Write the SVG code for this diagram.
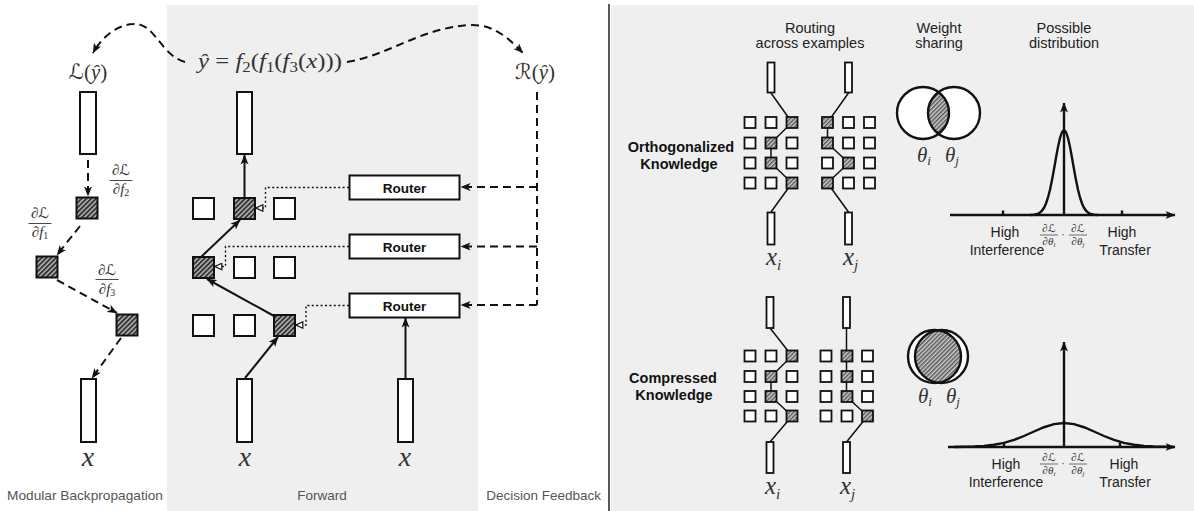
<svg xmlns="http://www.w3.org/2000/svg" width="1194" height="511" viewBox="0 0 1194 511">
<style>
.box{fill:#fff;stroke:#111;stroke-width:2}
.hat{fill:url(#hatch);stroke:#111;stroke-width:2}
.sb{fill:#fff;stroke:#111;stroke-width:1.8}
.sh{fill:url(#hatch2);stroke:#111;stroke-width:1.8}
.dash{fill:none;stroke:#111;stroke-width:2;stroke-dasharray:8 5}
.solid{fill:none;stroke:#111;stroke-width:2}
.dot{fill:none;stroke:#111;stroke-width:1.4;stroke-dasharray:2 2.4}
.thin{fill:none;stroke:#111;stroke-width:1.5}
.ax{fill:none;stroke:#111;stroke-width:2.4}
.math{font-family:"Liberation Serif","DejaVu Serif",serif;fill:#333}
.scr{font-family:"DejaVu Serif","DejaVu Sans",serif;font-style:normal}
.it{font-style:italic}
.cap{font-family:"Liberation Sans",Arial,sans-serif;font-size:13.5px;fill:#555}
.hd{font-family:"Liberation Sans",Arial,sans-serif;font-size:14.5px;fill:#222;text-anchor:middle}
.bold{font-family:"Liberation Sans",Arial,sans-serif;font-size:14.5px;font-weight:bold;fill:#111;text-anchor:middle}
.rt{font-family:"Liberation Sans",Arial,sans-serif;font-size:13.5px;font-weight:bold;fill:#111;text-anchor:middle}
.lab{font-family:"Liberation Sans",Arial,sans-serif;font-size:14px;fill:#222;text-anchor:middle}
</style>
<defs>
<pattern id="hatch" width="3.4" height="3.4" patternUnits="userSpaceOnUse" patternTransform="rotate(45)">
<rect width="3.4" height="3.4" fill="#b5b5b5"/><rect width="1.9" height="3.4" fill="#333"/>
</pattern>
<pattern id="hatch2" width="3" height="3" patternUnits="userSpaceOnUse" patternTransform="rotate(45)">
<rect width="3" height="3" fill="#c8c8c8"/><rect width="1.4" height="3" fill="#555"/>
</pattern>
<marker id="ah" markerWidth="11" markerHeight="9" refX="9.5" refY="4.5" orient="auto" markerUnits="userSpaceOnUse">
<path d="M0,0.5 L10,4.5 L0,8.5 L2.5,4.5 z" fill="#111"/>
</marker>
<marker id="hol" markerWidth="9" markerHeight="8" refX="7.5" refY="4" orient="auto" markerUnits="userSpaceOnUse">
<path d="M0.7,0.8 L7.5,4 L0.7,7.2 z" fill="#fff" stroke="#111" stroke-width="1.2"/>
</marker>
<clipPath id="c1"><circle cx="923" cy="113" r="26"/></clipPath>
<clipPath id="c2"><circle cx="934.5" cy="356.5" r="26.5"/></clipPath>
</defs>

<!-- backgrounds -->
<rect x="0" y="0" width="1194" height="511" fill="#fff"/>
<rect x="167" y="5" width="311" height="506" fill="#efefef"/>
<rect x="611" y="5" width="583" height="506" fill="#efefef"/>
<line x1="609" y1="4" x2="609" y2="511" stroke="#222" stroke-width="1.5"/>

<!-- captions -->
<text class="cap" x="7" y="500" textLength="156" lengthAdjust="spacingAndGlyphs">Modular Backpropagation</text>
<text class="cap" x="322" y="500" text-anchor="middle">Forward</text>
<text class="cap" x="601" y="500" text-anchor="end" font-size="13">Decision Feedback</text>

<!-- left panel nodes -->
<g id="loss">
<text class="math" x="88" y="79" font-size="21" text-anchor="middle"><tspan class="scr">ℒ</tspan>(<tspan class="it">ŷ</tspan>)</text>
</g>
<g id="left-out"><rect class="box" x="80" y="92" width="16" height="62"/></g>
<g id="left-m2"><rect class="hat" x="76.5" y="197.5" width="21" height="21"/></g>
<g id="left-m1"><rect class="hat" x="36.5" y="256.5" width="21" height="21"/></g>
<g id="left-m3"><rect class="hat" x="116.5" y="314.5" width="21" height="21"/></g>
<g id="left-in"><rect class="box" x="81" y="379" width="15" height="63"/>
<text class="math it" x="88" y="466" font-size="28" text-anchor="middle" fill="#222">x</text></g>
<g id="grad-f2" class="math">
<text x="121" y="175" font-size="15" text-anchor="middle">∂<tspan class="scr">ℒ</tspan></text>
<line x1="109.5" y1="180.5" x2="132.5" y2="180.5" stroke="#333" stroke-width="0.9"/>
<text x="121" y="194" font-size="15" text-anchor="middle">∂<tspan class="it">f</tspan><tspan font-size="10" dy="2">2</tspan></text>
</g>
<g id="grad-f1" class="math">
<text x="40" y="218" font-size="15" text-anchor="middle">∂<tspan class="scr">ℒ</tspan></text>
<line x1="28.5" y1="223.5" x2="51.5" y2="223.5" stroke="#333" stroke-width="0.9"/>
<text x="40" y="237" font-size="15" text-anchor="middle">∂<tspan class="it">f</tspan><tspan font-size="10" dy="2">1</tspan></text>
</g>
<g id="grad-f3" class="math">
<text x="107" y="275" font-size="15" text-anchor="middle">∂<tspan class="scr">ℒ</tspan></text>
<line x1="95.5" y1="279.5" x2="118.5" y2="279.5" stroke="#333" stroke-width="0.9"/>
<text x="107" y="294" font-size="15" text-anchor="middle">∂<tspan class="it">f</tspan><tspan font-size="10" dy="2">3</tspan></text>
</g>

<!-- center panel nodes -->
<g id="yhat">
<text class="math" x="198" y="68" font-size="22" textLength="144" lengthAdjust="spacingAndGlyphs"><tspan class="it">ŷ</tspan> = <tspan class="it">f</tspan><tspan font-size="15" dy="4">2</tspan><tspan dy="-4">(</tspan><tspan class="it">f</tspan><tspan font-size="15" dy="4">1</tspan><tspan dy="-4">(</tspan><tspan class="it">f</tspan><tspan font-size="15" dy="4">3</tspan><tspan dy="-4">(</tspan><tspan class="it">x</tspan>)))</text>
</g>
<g id="c-out"><rect class="box" x="237" y="92" width="15" height="62"/></g>
<g id="c-r1">
<rect class="box" x="193" y="198" width="21" height="21"/>
<rect class="hat" x="234" y="198" width="21" height="21"/>
<rect class="box" x="274" y="198" width="21" height="21"/>
</g>
<g id="c-r2">
<rect class="hat" x="193" y="257" width="21" height="21"/>
<rect class="box" x="234" y="257" width="21" height="21"/>
<rect class="box" x="274" y="257" width="21" height="21"/>
</g>
<g id="c-r3">
<rect class="box" x="193" y="315" width="21" height="21"/>
<rect class="box" x="234" y="315" width="21" height="21"/>
<rect class="hat" x="274" y="315" width="21" height="21"/>
</g>
<g id="c-in"><rect class="box" x="237" y="379" width="15" height="63"/>
<text class="math it" x="245" y="466" font-size="28" text-anchor="middle" fill="#222">x</text></g>
<g id="r-in"><rect class="box" x="398" y="379" width="15" height="63"/>
<text class="math it" x="405" y="466" font-size="28" text-anchor="middle" fill="#222">x</text></g>
<g id="router1"><rect class="box" x="349.5" y="175.5" width="110" height="24"/><text class="rt" x="404.5" y="192.5">Router</text></g>
<g id="router2"><rect class="box" x="349.5" y="234.5" width="110" height="24"/><text class="rt" x="404.5" y="251.5">Router</text></g>
<g id="router3"><rect class="box" x="349.5" y="293.5" width="110" height="24"/><text class="rt" x="404.5" y="310.5">Router</text></g>
<g id="reward">
<text class="math" x="535" y="79" font-size="21" text-anchor="middle"><tspan class="scr">ℛ</tspan>(<tspan class="it">ŷ</tspan>)</text>
</g>

<!-- right panel -->
<g id="headers">
<text class="hd" x="810" y="33">Routing</text>
<text class="hd" x="810" y="48">across examples</text>
<text class="hd" x="939" y="33">Weight</text>
<text class="hd" x="939" y="48">sharing</text>
<text class="hd" x="1064" y="33">Possible</text>
<text class="hd" x="1064" y="48">distribution</text>
</g>
<g id="orth-label">
<text class="bold" x="681" y="152">Orthogonalized</text>
<text class="bold" x="679" y="169">Knowledge</text>
</g>
<g id="comp-label">
<text class="bold" x="673" y="383">Compressed</text>
<text class="bold" x="674" y="400">Knowledge</text>
</g>

<g id="orth-i">
<polyline class="thin" points="771,93 792,122.5 771,143 771,163 792,183 771,212"/>
<rect class="sb" x="767.5" y="62.5" width="7" height="30"/>
<rect class="sb" x="767.5" y="212.5" width="7" height="32"/>
<rect class="sb" x="744.5" y="117" width="11" height="11"/><rect class="sb" x="765.5" y="117" width="11" height="11"/><rect class="sh" x="786.5" y="117" width="11" height="11"/>
<rect class="sb" x="744.5" y="137.5" width="11" height="11"/><rect class="sh" x="765.5" y="137.5" width="11" height="11"/><rect class="sb" x="786.5" y="137.5" width="11" height="11"/>
<rect class="sb" x="744.5" y="157.5" width="11" height="11"/><rect class="sh" x="765.5" y="157.5" width="11" height="11"/><rect class="sb" x="786.5" y="157.5" width="11" height="11"/>
<rect class="sb" x="744.5" y="177.5" width="11" height="11"/><rect class="sb" x="765.5" y="177.5" width="11" height="11"/><rect class="sh" x="786.5" y="177.5" width="11" height="11"/>
<text class="math it" x="766" y="265" font-size="25" fill="#222">x<tspan font-size="15" dy="5">i</tspan></text>
</g>
<g id="orth-j">
<polyline class="thin" points="848.5,93 827.5,122.5 827.5,143 848.5,163 827.5,183 848.5,212"/>
<rect class="sb" x="845" y="62.5" width="7" height="30"/>
<rect class="sb" x="845" y="212.5" width="7" height="32"/>
<rect class="sh" x="822" y="117" width="11" height="11"/><rect class="sb" x="843" y="117" width="11" height="11"/><rect class="sb" x="864" y="117" width="11" height="11"/>
<rect class="sh" x="822" y="137.5" width="11" height="11"/><rect class="sb" x="843" y="137.5" width="11" height="11"/><rect class="sb" x="864" y="137.5" width="11" height="11"/>
<rect class="sb" x="822" y="157.5" width="11" height="11"/><rect class="sh" x="843" y="157.5" width="11" height="11"/><rect class="sb" x="864" y="157.5" width="11" height="11"/>
<rect class="sh" x="822" y="177.5" width="11" height="11"/><rect class="sb" x="843" y="177.5" width="11" height="11"/><rect class="sb" x="864" y="177.5" width="11" height="11"/>
<text class="math it" x="843" y="265" font-size="25" fill="#222">x<tspan font-size="15" dy="5">j</tspan></text>
</g>

<g id="comp-i">
<polyline class="thin" points="770,328 792,356 771,376.5 771,396.5 792,416 770,442"/>
<rect class="sb" x="766.5" y="297" width="7" height="31"/>
<rect class="sb" x="766.5" y="442" width="7" height="31"/>
<rect class="sb" x="744.5" y="350.5" width="11" height="11"/><rect class="sb" x="765.5" y="350.5" width="11" height="11"/><rect class="sh" x="786.5" y="350.5" width="11" height="11"/>
<rect class="sb" x="744.5" y="371" width="11" height="11"/><rect class="sh" x="765.5" y="371" width="11" height="11"/><rect class="sb" x="786.5" y="371" width="11" height="11"/>
<rect class="sb" x="744.5" y="391" width="11" height="11"/><rect class="sh" x="765.5" y="391" width="11" height="11"/><rect class="sb" x="786.5" y="391" width="11" height="11"/>
<rect class="sb" x="744.5" y="410.5" width="11" height="11"/><rect class="sb" x="765.5" y="410.5" width="11" height="11"/><rect class="sh" x="786.5" y="410.5" width="11" height="11"/>
<text class="math it" x="765" y="494" font-size="25" fill="#222">x<tspan font-size="15" dy="5">i</tspan></text>
</g>
<g id="comp-j">
<polyline class="thin" points="846.5,328 846.5,356 846.5,376.5 846.5,396.5 867.5,416 846.5,442"/>
<rect class="sb" x="843" y="297" width="7" height="31"/>
<rect class="sb" x="843" y="442" width="7" height="31"/>
<rect class="sb" x="820.5" y="350.5" width="11" height="11"/><rect class="sh" x="841.5" y="350.5" width="11" height="11"/><rect class="sb" x="862" y="350.5" width="11" height="11"/>
<rect class="sb" x="820.5" y="371" width="11" height="11"/><rect class="sh" x="841.5" y="371" width="11" height="11"/><rect class="sb" x="862" y="371" width="11" height="11"/>
<rect class="sb" x="820.5" y="391" width="11" height="11"/><rect class="sh" x="841.5" y="391" width="11" height="11"/><rect class="sb" x="862" y="391" width="11" height="11"/>
<rect class="sb" x="820.5" y="410.5" width="11" height="11"/><rect class="sb" x="841.5" y="410.5" width="11" height="11"/><rect class="sh" x="862" y="410.5" width="11" height="11"/>
<text class="math it" x="840" y="494" font-size="25" fill="#222">x<tspan font-size="15" dy="5">j</tspan></text>
</g>

<g id="venn-orth">
<circle cx="923" cy="113" r="26" fill="#fff"/>
<circle cx="954" cy="113" r="26" fill="#fff"/>
<circle cx="954" cy="113" r="26" fill="url(#hatch2)" clip-path="url(#c1)"/>
<circle cx="923" cy="113" r="26" fill="none" stroke="#111" stroke-width="2.4"/>
<circle cx="954" cy="113" r="26" fill="none" stroke="#111" stroke-width="2.4"/>
<text class="math" x="917" y="162" font-size="21"><tspan class="it">θ</tspan><tspan class="it" font-size="13" dy="3">i</tspan></text>
<text class="math" x="945" y="162" font-size="21"><tspan class="it">θ</tspan><tspan class="it" font-size="13" dy="3">j</tspan></text>
</g>
<g id="venn-comp">
<circle cx="934.5" cy="356.5" r="26.5" fill="#fff"/>
<circle cx="941.5" cy="356.5" r="26.5" fill="#fff"/>
<circle cx="941.5" cy="356.5" r="26.5" fill="url(#hatch2)" clip-path="url(#c2)"/>
<circle cx="934.5" cy="356.5" r="26.5" fill="none" stroke="#111" stroke-width="2.4"/>
<circle cx="941.5" cy="356.5" r="26.5" fill="none" stroke="#111" stroke-width="2.4"/>
<text class="math" x="918" y="403" font-size="21"><tspan class="it">θ</tspan><tspan class="it" font-size="13" dy="3">i</tspan></text>
<text class="math" x="946" y="403" font-size="21"><tspan class="it">θ</tspan><tspan class="it" font-size="13" dy="3">j</tspan></text>
</g>

<g id="plot-orth">
<line class="ax" x1="950" y1="215" x2="1175" y2="215" marker-end="url(#ah)"/>
<line class="ax" x1="1064" y1="215" x2="1064" y2="103" marker-end="url(#ah)"/>
<line class="ax" x1="1003" y1="210.5" x2="1003" y2="215"/>
<line class="ax" x1="1122" y1="210.5" x2="1122" y2="215"/>
<polyline class="ax" points="1030,215 1034,214.7 1036,214.3 1038,213.7 1040,212.6 1042,210.7 1044,207.8 1046,203.5 1048,197.5 1050,189.7 1052,180.1 1054,169.2 1056,157.7 1058,146.9 1060,138 1062,132.1 1064,130 1066,132.1 1068,138 1070,146.9 1072,157.7 1074,169.2 1076,180.1 1078,189.7 1080,197.5 1082,203.5 1084,207.8 1086,210.7 1088,212.6 1090,213.7 1092,214.3 1094,214.7 1098,215"/>
<text class="lab" x="1005" y="237">High</text>
<text class="lab" x="1007" y="255">Interference</text>
<text class="lab" x="1122" y="237">High</text>
<text class="lab" x="1125" y="255">Transfer</text>
<g class="math" font-size="11" text-anchor="middle">
<text x="1049" y="232">∂<tspan class="scr">ℒ</tspan></text>
<line x1="1040" y1="235" x2="1058" y2="235" stroke="#333" stroke-width="0.7"/>
<text x="1049" y="245">∂<tspan class="it">θ</tspan><tspan font-size="7" dy="1.5" class="it">i</tspan></text>
<text x="1063" y="238">·</text>
<text x="1078" y="232">∂<tspan class="scr">ℒ</tspan></text>
<line x1="1069" y1="235" x2="1087" y2="235" stroke="#333" stroke-width="0.7"/>
<text x="1078" y="245">∂<tspan class="it">θ</tspan><tspan font-size="7" dy="1.5" class="it">j</tspan></text>
</g>
</g>

<g id="plot-comp">
<line class="ax" x1="948" y1="447" x2="1175" y2="447" marker-end="url(#ah)"/>
<line class="ax" x1="1064" y1="447" x2="1064" y2="342" marker-end="url(#ah)"/>
<line class="ax" x1="1004" y1="442.5" x2="1004" y2="447"/>
<line class="ax" x1="1120" y1="442.5" x2="1120" y2="447"/>
<polyline class="ax" points="954,447 964,446.8 974,446.5 984,445.9 994,444.8 1004,442.9 1014,439.9 1024,436 1034,431.5 1044,427.25 1054,424.15 1064,423 1074,424.15 1084,427.25 1094,431.5 1104,436 1114,439.9 1124,442.9 1134,444.8 1144,445.9 1154,446.5 1164,446.8 1174,447"/>
<text class="lab" x="1006" y="469">High</text>
<text class="lab" x="1006" y="487">Interference</text>
<text class="lab" x="1124" y="469">High</text>
<text class="lab" x="1125" y="487">Transfer</text>
<g class="math" font-size="11" text-anchor="middle">
<text x="1049" y="461">∂<tspan class="scr">ℒ</tspan></text>
<line x1="1040" y1="464" x2="1058" y2="464" stroke="#333" stroke-width="0.7"/>
<text x="1049" y="474">∂<tspan class="it">θ</tspan><tspan font-size="7" dy="1.5" class="it">i</tspan></text>
<text x="1063" y="467">·</text>
<text x="1078" y="461">∂<tspan class="scr">ℒ</tspan></text>
<line x1="1069" y1="464" x2="1087" y2="464" stroke="#333" stroke-width="0.7"/>
<text x="1078" y="474">∂<tspan class="it">θ</tspan><tspan font-size="7" dy="1.5" class="it">j</tspan></text>
</g>
</g>

<!-- connectors -->
<g id="connectors">
<path class="dash" d="M185,62 C160,55 155,22 133,24 C115,25 100,40 93,53" marker-end="url(#ah)"/>
<path class="dash" d="M347,62 C390,55 420,28 470,25 C495,24 510,40 523,53" marker-end="url(#ah)"/>
<line class="dash" x1="88" y1="160" x2="88" y2="196" marker-end="url(#ah)"/>
<line class="dash" x1="80" y1="226" x2="57" y2="255" marker-end="url(#ah)"/>
<line class="dash" x1="57" y1="280" x2="117" y2="313" marker-end="url(#ah)"/>
<line class="dash" x1="121" y1="338" x2="92" y2="378" marker-end="url(#ah)"/>
<path class="dash" d="M537,92 V305" stroke-dasharray="1.5 6 8 5 8 5 8 5 8 5 8 5 8 5 8 5 8 5 8 5 8 5 8 5 8 5 8 5 8 5 8 5 8 5"/>
<line class="dash" x1="537" y1="187" x2="461" y2="187" marker-end="url(#ah)"/>
<line class="dash" x1="537" y1="246.5" x2="461" y2="246.5" marker-end="url(#ah)"/>
<line class="dash" x1="537" y1="305" x2="461" y2="305" marker-end="url(#ah)"/>
<line class="solid" x1="244.5" y1="197" x2="244.5" y2="155" marker-end="url(#ah)"/>
<line class="solid" x1="201" y1="257" x2="240" y2="220" marker-end="url(#ah)"/>
<line class="solid" x1="274" y1="316" x2="207" y2="279" marker-end="url(#ah)"/>
<line class="solid" x1="245" y1="378" x2="278" y2="337" marker-end="url(#ah)"/>
<line class="solid" x1="405.5" y1="378" x2="405.5" y2="318" marker-end="url(#ah)"/>
<path class="dot" d="M349,187.5 H265.5 V208 H256" marker-end="url(#hol)"/>
<path class="dot" d="M349,246.5 H225.5 V266.5 H215" marker-end="url(#hol)"/>
<path class="dot" d="M349,305.5 H306 V325 H296" marker-end="url(#hol)"/>
</g>
</svg>
